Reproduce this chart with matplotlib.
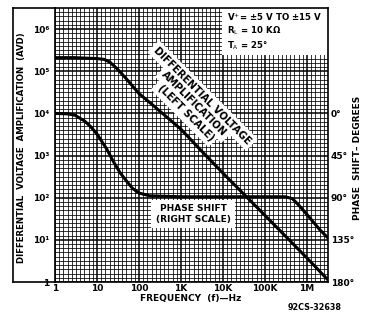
import numpy as np
import matplotlib
matplotlib.use("Agg")
import matplotlib.pyplot as plt
from matplotlib.lines import Line2D
from matplotlib.patches import Rectangle

# ---- data ----
freq_ticks = [1, 10, 100, 1e3, 1e4, 1e5, 1e6]
freq_tick_labels = ["1", "10", "100", "1K", "10K", "100K", "1M"]
gain_ticks = [1, 10, 1e2, 1e3, 1e4, 1e5, 1e6]
gain_tick_labels = ["1", "10¹", "10²", "10³", "10⁴", "10⁵", "10⁶"]
phase_ticks = [0, 45, 90, 135, 180]
phase_tick_labels = ["0°", "45°", "90°", "135°", "180°"]

gain_freq = [1, 3, 5, 10, 15, 20, 30, 50, 100, 200, 500, 1e3, 3e3, 1e4, 1e5, 1e6, 3.16e6]
gain_vals = [2.1e5, 2.1e5, 2.05e5, 2.0e5, 1.9e5, 1.66e5, 1.15e5, 6.6e4, 2.95e4,
             1.66e4, 7.6e3, 4.2e3, 1.32e3, 380, 38, 3.7, 1.12]

phase_freq = [1, 2, 3, 5, 7, 10, 17, 25, 35, 50, 70, 100, 180, 1e3, 1e4, 1e5,
              3e5, 4.5e5, 7e5, 1e6, 2e6, 3.16e6]
phase_vals = [0, 0.5, 2, 8, 14, 22, 38, 52, 63, 72, 80, 85, 88, 89, 89, 89,
              89, 91, 100, 108, 124, 133]

diag_lines = ["DIFFERENTIAL VOLTAGE", "AMPLIFICATION", "(LEFT SCALE)"]

FONT = "DejaVu Sans"
plt.rcParams["font.family"] = [FONT]

W, H = 370, 312
fig = plt.figure(figsize=(W / 100, H / 100), dpi=100)
L, R, T, B = 55, 328, 8, 282
ax = fig.add_axes([L / W, 1 - B / H, (R - L) / W, (B - T) / H])
ax.set_xscale("log")
ax.set_yscale("log")
top = 10 ** 6.5
ax.set_xlim(1, top)
ax.set_ylim(1, top)
ax.set_axisbelow(True)

ax.set_xticks(freq_ticks)
ax.set_xticklabels(freq_tick_labels, fontsize=6.5, fontweight="bold")
ax.set_yticks(gain_ticks)
ax.set_yticklabels(gain_tick_labels, fontsize=6.5, fontweight="bold")
ax.set_xticks(10 ** np.arange(0, 6.5, 0.1), minor=True)
ax.set_yticks(10 ** np.arange(0, 6.5, 0.1), minor=True)
ax.xaxis.set_minor_formatter(plt.NullFormatter())
ax.yaxis.set_minor_formatter(plt.NullFormatter())
ax.tick_params(which="both", length=0)
ax.tick_params(axis="x", pad=1.5)
ax.tick_params(axis="y", pad=4)
ax.grid(which="minor", color="black", lw=0.55)
ax.grid(which="major", color="black", lw=1.1)
for s in ax.spines.values():
    s.set_linewidth(1.2)

# white spec box
ax.add_patch(Rectangle(((222 - L) / (R - L), (B - 55) / (B - T)),
                       1 - (222 - L) / (R - L), (55 - T) / (B - T),
                       transform=ax.transAxes, facecolor="white", edgecolor="none", zorder=1))
ax.plot(gain_freq, gain_vals, color="black", lw=2.2, zorder=3, solid_capstyle="butt")

ax2 = ax.twinx()
ax2.set_ylim(180, 180 - 45 * 6.5)
ax2.set_yticks(phase_ticks)
ax2.set_yticklabels(phase_tick_labels, fontsize=6.5, fontweight="bold")
ax2.tick_params(length=0, pad=2)
for s in ax2.spines.values():
    s.set_visible(False)
ax2.plot(phase_freq, phase_vals, color="black", lw=2.2, zorder=3)

def axfrac(px, py):
    return (px - L) / (R - L), (B - py) / (B - T)

# spec text
x0, y0 = axfrac(227, 11)
ax2.text(x0, y0, "V$^{+}$= ±5 V TO ±15 V\nR$_{\\mathrm{L}}$ = 10 KΩ\nT$_{\\mathrm{A}}$ = 25°",
         transform=ax.transAxes, fontsize=6.2, fontweight="bold", va="top", ha="left",
         linespacing=1.25, zorder=5)

# diagonal label: white bands first, then the text lines on top
c2 = np.array([194.0, 104.0])
perp = np.array([-1.0, 1.0]) / np.sqrt(2)
for i, line in enumerate(diag_lines):
    px, py = c2 + (i - 1) * 12.0 * perp
    cx, cy = axfrac(px, py)
    kw = dict(transform=ax.transAxes, fontsize=7.2, fontweight="bold", rotation=-45,
              ha="center", va="center", rotation_mode="anchor")
    ax2.text(cx, cy, line, color="none", zorder=4,
             bbox=dict(facecolor="white", edgecolor="none", pad=2.4), **kw)
    ax2.text(cx, cy, line, color="black", zorder=5, **kw)

# phase label
cx, cy = axfrac(193, 214)
ax2.text(cx, cy, "PHASE SHIFT\n(RIGHT SCALE)", transform=ax.transAxes,
         fontsize=6.5, fontweight="bold", ha="center", va="center",
         multialignment="center", linespacing=1.3, zorder=5,
         bbox=dict(facecolor="white", edgecolor="none", pad=3))

# axis labels
fig.text(22 / W, 1 - 148 / H, "DIFFERENTIAL  VOLTAGE  AMPLIFICATION  (AVD)", rotation=90,
         ha="center", va="center", fontsize=6.2, fontweight="bold")
fig.text(357 / W, 1 - 158 / H, "PHASE  SHIFT– DEGREES", rotation=90,
         ha="center", va="center", fontsize=6.5, fontweight="bold")
fig.text(191 / W, 1 - 299 / H, "FREQUENCY  (f)—Hz", ha="center", va="center",
         fontsize=6.5, fontweight="bold")
fig.text(315 / W, 1 - 307 / H, "92CS-32638", ha="center", va="center",
         fontsize=5.8, fontweight="bold")

# left frame around the y label
fx0 = 13 / W
fig.add_artist(Line2D([fx0, fx0], [1 - B / H, 1 - T / H], color="black", lw=1.2))
fig.add_artist(Line2D([fx0, L / W], [1 - B / H, 1 - B / H], color="black", lw=1.2))
fig.add_artist(Line2D([fx0, L / W], [1 - T / H, 1 - T / H], color="black", lw=1.2))

fig.savefig("out.png", dpi=100)
